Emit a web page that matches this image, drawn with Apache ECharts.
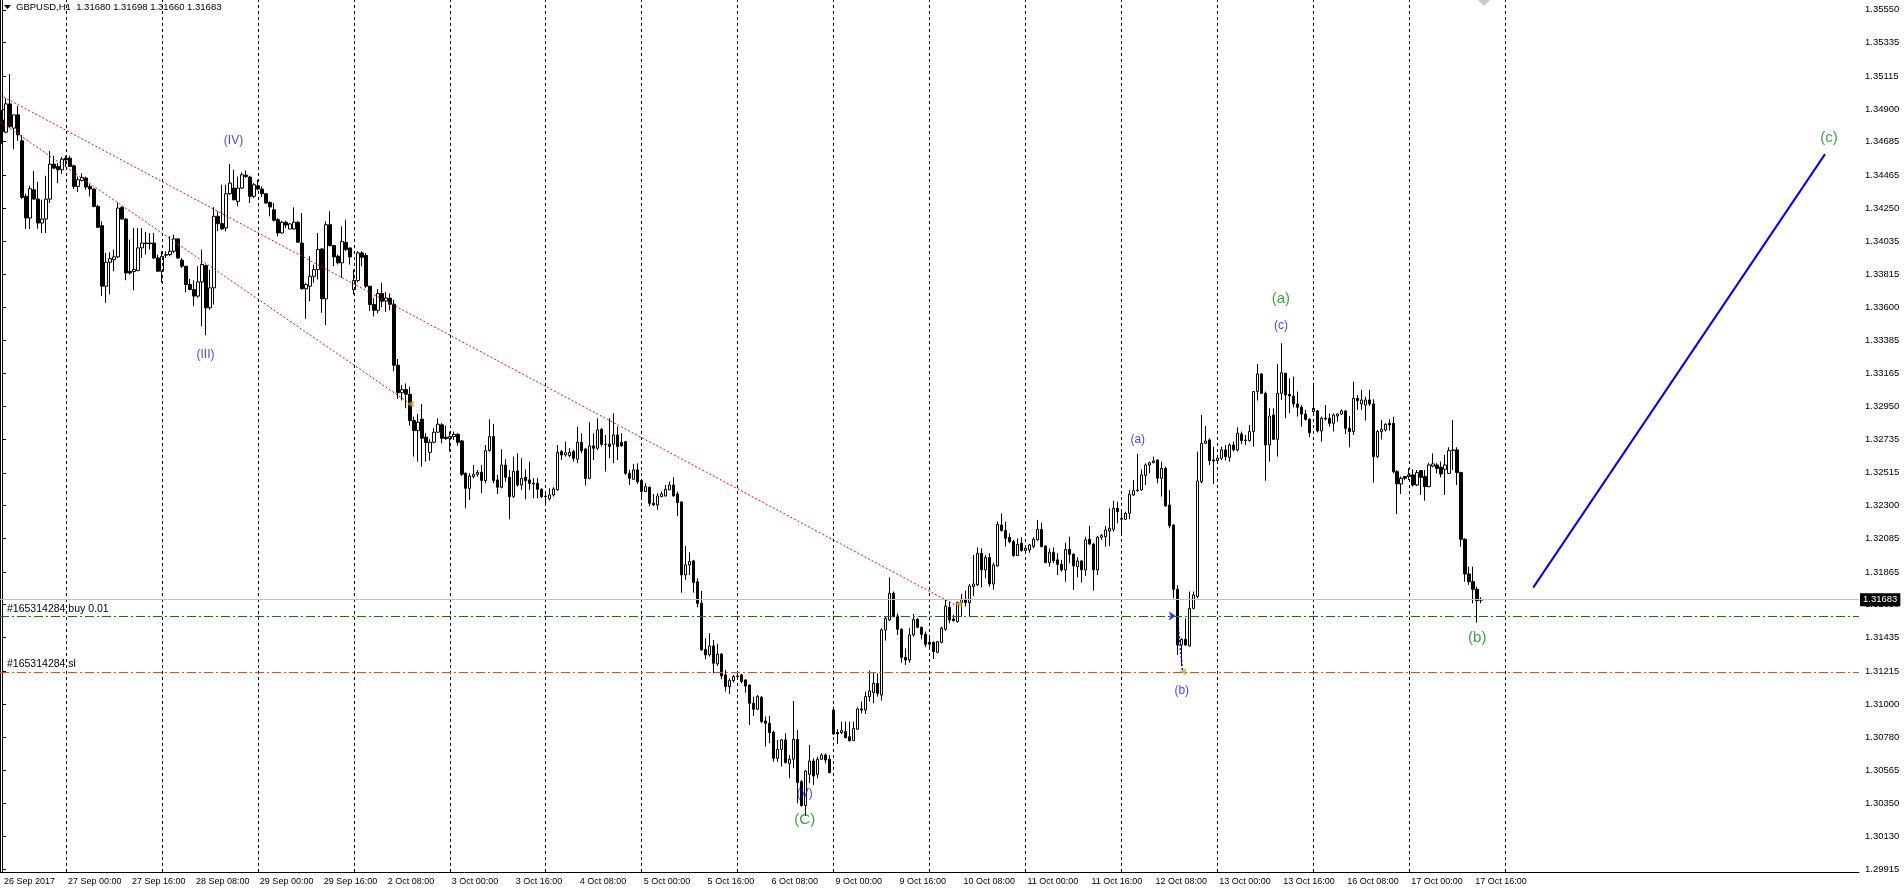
<!DOCTYPE html>
<html>
<head>
<meta charset="utf-8">
<title>GBPUSD,H1</title>
<script src="https://cdn.jsdelivr.net/npm/echarts@6/dist/echarts.min.js"></script>
<style>
  html, body { margin: 0; padding: 0; background: #fff; }
  #chart { width: 1904px; height: 893px; }
</style>
</head>
<body>
<div id="chart"></div>
<script>
var FONT = '"Liberation Sans", Arial, sans-serif';

// trading days shown on the H1 chart, first bar is 26 Sep 08:00
var days = ['26 Sep', '27 Sep', '28 Sep', '29 Sep', '2 Oct', '3 Oct', '4 Oct', '5 Oct',
            '6 Oct', '9 Oct', '10 Oct', '11 Oct', '12 Oct', '13 Oct', '16 Oct', '17 Oct'];
var firstHour = 8;
var slots = 465;   // bars that fit in the window (incl. empty shift area)

var opens = [
  1.34828, 1.34747, 1.34933, 1.34774, 1.34861, 1.34691, 1.34327, 1.34185, 1.34370, 1.34309,
  1.34152, 1.34178, 1.34309, 1.34538, 1.34523, 1.34501, 1.34577, 1.34577, 1.34527, 1.34392,
  1.34431, 1.34447, 1.34392, 1.34375, 1.34261, 1.34135, 1.33738, 1.33895, 1.33912, 1.33930,
  1.34255, 1.34178, 1.33836, 1.33834, 1.33840, 1.33989, 1.34021, 1.34021, 1.34021, 1.33923,
  1.33836, 1.33941, 1.33945, 1.33967, 1.34048, 1.33908, 1.33869, 1.33749, 1.33716, 1.33673,
  1.33766, 1.33873, 1.33596, 1.33727, 1.34196, 1.34148, 1.34120, 1.34344, 1.34381, 1.34294,
  1.34381, 1.34466, 1.34453, 1.34327, 1.34396, 1.34375, 1.34344, 1.34287, 1.34239, 1.34174,
  1.34087, 1.34157, 1.34113, 1.34113, 1.34157, 1.34021, 1.33721, 1.33738, 1.33803, 1.33847,
  1.33982, 1.33655, 1.34141, 1.34004, 1.33934, 1.33891, 1.34026, 1.33989, 1.33716, 1.33775,
  1.33956, 1.33939, 1.33738, 1.33618, 1.33580, 1.33690, 1.33640, 1.33660, 1.33620, 1.33220,
  1.33040, 1.33060, 1.33030, 1.32857, 1.32791, 1.32866, 1.32748, 1.32649, 1.32715, 1.32781,
  1.32829, 1.32748, 1.32739, 1.32752, 1.32767, 1.32724, 1.32512, 1.32413, 1.32490, 1.32505,
  1.32518, 1.32464, 1.32660, 1.32752, 1.32468, 1.32420, 1.32566, 1.32486, 1.32359, 1.32527,
  1.32435, 1.32486, 1.32468, 1.32446, 1.32446, 1.32407, 1.32359, 1.32344, 1.32370, 1.32403,
  1.32654, 1.32632, 1.32628, 1.32654, 1.32604, 1.32715, 1.32671, 1.32479, 1.32691, 1.32676,
  1.32800, 1.32702, 1.32702, 1.32702, 1.32763, 1.32713, 1.32719, 1.32512, 1.32472, 1.32534,
  1.32464, 1.32392, 1.32420, 1.32315, 1.32304, 1.32359, 1.32363, 1.32403, 1.32435, 1.32376,
  1.32324, 1.31845, 1.31911, 1.31937, 1.31800, 1.31660, 1.31358, 1.31321, 1.31380, 1.31262,
  1.31327, 1.31190, 1.31113, 1.31153, 1.31179, 1.31190, 1.31157, 1.31124, 1.31004, 1.30965,
  1.31043, 1.30888, 1.30873, 1.30814, 1.30643, 1.30702, 1.30764, 1.30610, 1.30637, 1.30768,
  1.30490, 1.30333, 1.30538, 1.30626, 1.30538, 1.30637, 1.30665, 1.30637, 1.30960, 1.30812,
  1.30812, 1.30818, 1.30785, 1.30759, 1.30834, 1.30967, 1.30960, 1.31048, 1.31074, 1.31135,
  1.31058, 1.31485, 1.31550, 1.31725, 1.31576, 1.31489, 1.31305, 1.31288, 1.31452, 1.31554,
  1.31502, 1.31456, 1.31391, 1.31404, 1.31338, 1.31404, 1.31489, 1.31633, 1.31557, 1.31539,
  1.31664, 1.31686, 1.31664, 1.31769, 1.31780, 1.31987, 1.31878, 1.31959, 1.31786, 1.31904,
  1.32173, 1.32136, 1.32092, 1.32064, 1.31972, 1.32053, 1.32005, 1.32009, 1.32031, 1.32075,
  1.32144, 1.32035, 1.31926, 1.31994, 1.31944, 1.31915, 1.31878, 1.32013, 1.31981, 1.31900,
  1.31937, 1.31878, 1.32079, 1.32048, 1.31878, 1.32092, 1.32096, 1.32133, 1.32144, 1.32282,
  1.32216, 1.32210, 1.32249, 1.32370, 1.32398, 1.32402, 1.32497, 1.32566, 1.32581, 1.32599,
  1.32479, 1.32544, 1.32304, 1.32173, 1.31751, 1.31386, 1.31423, 1.31380, 1.31626, 1.31703,
  1.32457, 1.32708, 1.32730, 1.32599, 1.32595, 1.32610, 1.32665, 1.32616, 1.32697, 1.32665,
  1.32769, 1.32726, 1.32726, 1.32785, 1.33047, 1.33163, 1.33036, 1.32697, 1.32894, 1.32734,
  1.33036, 1.33167, 1.33029, 1.33018, 1.32966, 1.32944, 1.32900, 1.32865, 1.32916, 1.32920,
  1.32789, 1.32872, 1.32872, 1.32839, 1.32887, 1.32900, 1.32920, 1.32806, 1.32785, 1.33003,
  1.32966, 1.32959, 1.32992, 1.32966, 1.32621, 1.32785, 1.32796, 1.32839, 1.32839, 1.32522,
  1.32442, 1.32490, 1.32490, 1.32501, 1.32435, 1.32529, 1.32490, 1.32424, 1.32559, 1.32566,
  1.32551, 1.32538, 1.32511, 1.32660, 1.32665, 1.32516, 1.32079, 1.31852, 1.31801, 1.31751,
  1.31680
];
var highs = [
  1.34893, 1.34970, 1.35129, 1.34861, 1.34920, 1.34730, 1.34344, 1.34396, 1.34494, 1.34422,
  1.34305, 1.34462, 1.34625, 1.34593, 1.34545, 1.34584, 1.34593, 1.34593, 1.34534, 1.34457,
  1.34479, 1.34457, 1.34407, 1.34381, 1.34272, 1.34163, 1.33956, 1.33960, 1.33978, 1.34287,
  1.34261, 1.34185, 1.34043, 1.34120, 1.34120, 1.34120, 1.34093, 1.34087, 1.34087, 1.33945,
  1.33967, 1.33967, 1.34065, 1.34076, 1.34054, 1.33923, 1.33869, 1.33786, 1.33777, 1.33869,
  1.33978, 1.33880, 1.33847, 1.34257, 1.34229, 1.34403, 1.34403, 1.34540, 1.34501, 1.34457,
  1.34484, 1.34497, 1.34462, 1.34414, 1.34436, 1.34392, 1.34348, 1.34294, 1.34283, 1.34185,
  1.34167, 1.34167, 1.34152, 1.34255, 1.34163, 1.34218, 1.33760, 1.33934, 1.33880, 1.34087,
  1.33989, 1.34163, 1.34229, 1.34004, 1.33945, 1.34130, 1.34174, 1.33989, 1.33847, 1.33967,
  1.33967, 1.33956, 1.33738, 1.33660, 1.33720, 1.33760, 1.33700, 1.33690, 1.33650, 1.33260,
  1.33090, 1.33100, 1.33080, 1.32883, 1.32901, 1.32966, 1.32774, 1.32735, 1.32807, 1.32872,
  1.32840, 1.32824, 1.32785, 1.32785, 1.32774, 1.32730, 1.32516, 1.32512, 1.32566, 1.32534,
  1.32566, 1.32697, 1.32866, 1.32835, 1.32501, 1.32669, 1.32604, 1.32534, 1.32621, 1.32643,
  1.32610, 1.32538, 1.32588, 1.32479, 1.32479, 1.32413, 1.32381, 1.32413, 1.32420, 1.32697,
  1.32665, 1.32719, 1.32676, 1.32665, 1.32818, 1.32774, 1.32676, 1.32846, 1.32774, 1.32872,
  1.32807, 1.32763, 1.32872, 1.32905, 1.32818, 1.32774, 1.32724, 1.32534, 1.32573, 1.32577,
  1.32472, 1.32446, 1.32424, 1.32376, 1.32381, 1.32392, 1.32435, 1.32457, 1.32486, 1.32392,
  1.32326, 1.32035, 1.31994, 1.31944, 1.31824, 1.31740, 1.31430, 1.31463, 1.31419, 1.31393,
  1.31332, 1.31223, 1.31168, 1.31190, 1.31201, 1.31195, 1.31161, 1.31128, 1.31048, 1.31058,
  1.31052, 1.30917, 1.30921, 1.30825, 1.30764, 1.30768, 1.30807, 1.30665, 1.31019, 1.30829,
  1.30501, 1.30567, 1.30731, 1.30643, 1.30654, 1.30676, 1.30676, 1.30665, 1.30982, 1.30834,
  1.30884, 1.30884, 1.30884, 1.30884, 1.30976, 1.31015, 1.31080, 1.31218, 1.31201, 1.31201,
  1.31496, 1.31572, 1.31830, 1.31736, 1.31594, 1.31496, 1.31364, 1.31496, 1.31589, 1.31561,
  1.31506, 1.31474, 1.31452, 1.31408, 1.31412, 1.31506, 1.31688, 1.31670, 1.31583, 1.31670,
  1.31721, 1.31742, 1.31786, 1.31976, 1.32026, 1.32020, 1.31976, 1.31987, 1.31926, 1.32195,
  1.32249, 1.32195, 1.32118, 1.32075, 1.32085, 1.32092, 1.32031, 1.32048, 1.32092, 1.32206,
  1.32188, 1.32040, 1.32020, 1.32026, 1.31987, 1.31944, 1.32057, 1.32096, 1.31987, 1.31961,
  1.31944, 1.32096, 1.32166, 1.32053, 1.32101, 1.32114, 1.32166, 1.32282, 1.32332, 1.32326,
  1.32271, 1.32260, 1.32402, 1.32468, 1.32638, 1.32538, 1.32577, 1.32588, 1.32621, 1.32603,
  1.32588, 1.32555, 1.32402, 1.32177, 1.31780, 1.31430, 1.31561, 1.31736, 1.31736, 1.32653,
  1.32894, 1.32822, 1.32741, 1.32686, 1.32610, 1.32686, 1.32697, 1.32708, 1.32719, 1.32813,
  1.32785, 1.32763, 1.32828, 1.33051, 1.33228, 1.33167, 1.33047, 1.32938, 1.32938, 1.33228,
  1.33364, 1.33171, 1.33134, 1.33145, 1.33047, 1.32959, 1.32927, 1.32872, 1.33101, 1.32927,
  1.32883, 1.32959, 1.32905, 1.32905, 1.32905, 1.32931, 1.32927, 1.32887, 1.33112, 1.33025,
  1.33058, 1.33014, 1.33058, 1.32997, 1.32796, 1.32861, 1.32839, 1.32865, 1.32883, 1.32533,
  1.32490, 1.32490, 1.32544, 1.32538, 1.32533, 1.32533, 1.32533, 1.32581, 1.32643, 1.32577,
  1.32588, 1.32632, 1.32682, 1.32861, 1.32682, 1.32522, 1.32085, 1.31900, 1.31900, 1.31769,
  1.31698
];
var lows = [
  1.34671, 1.34741, 1.34774, 1.34636, 1.34691, 1.34309, 1.34113, 1.34113, 1.34305, 1.34115,
  1.34087, 1.34087, 1.34283, 1.34505, 1.34414, 1.34475, 1.34519, 1.34519, 1.34375, 1.34355,
  1.34425, 1.34370, 1.34327, 1.34255, 1.34120, 1.33673, 1.33629, 1.33684, 1.33836, 1.33923,
  1.34174, 1.33777, 1.33814, 1.33712, 1.33836, 1.33923, 1.33945, 1.33978, 1.33917, 1.33836,
  1.33760, 1.33923, 1.33934, 1.33956, 1.33917, 1.33858, 1.33699, 1.33712, 1.33607, 1.33662,
  1.33476, 1.33417, 1.33585, 1.33618, 1.34098, 1.34109, 1.34098, 1.34337, 1.34300, 1.34261,
  1.34375, 1.34447, 1.34283, 1.34316, 1.34366, 1.34322, 1.34279, 1.34196, 1.34163, 1.34065,
  1.34082, 1.34120, 1.34113, 1.34109, 1.34026, 1.33716, 1.33524, 1.33640, 1.33760, 1.33782,
  1.33564, 1.33483, 1.33999, 1.33869, 1.33880, 1.33793, 1.33967, 1.33880, 1.33684, 1.33764,
  1.33869, 1.33727, 1.33575, 1.33540, 1.33560, 1.33600, 1.33570, 1.33580, 1.33180, 1.33000,
  1.32990, 1.32938, 1.32824, 1.32621, 1.32588, 1.32555, 1.32588, 1.32595, 1.32708, 1.32778,
  1.32708, 1.32730, 1.32654, 1.32730, 1.32693, 1.32494, 1.32282, 1.32337, 1.32479, 1.32490,
  1.32381, 1.32446, 1.32654, 1.32446, 1.32376, 1.32413, 1.32457, 1.32210, 1.32348, 1.32424,
  1.32403, 1.32341, 1.32403, 1.32348, 1.32348, 1.32348, 1.32304, 1.32333, 1.32359, 1.32398,
  1.32599, 1.32621, 1.32617, 1.32588, 1.32577, 1.32643, 1.32431, 1.32472, 1.32599, 1.32665,
  1.32687, 1.32523, 1.32610, 1.32577, 1.32599, 1.32687, 1.32501, 1.32435, 1.32468, 1.32442,
  1.32337, 1.32392, 1.32298, 1.32298, 1.32271, 1.32354, 1.32359, 1.32403, 1.32359, 1.32232,
  1.31729, 1.31813, 1.31845, 1.31729, 1.31633, 1.31349, 1.31293, 1.31310, 1.31201, 1.31249,
  1.31161, 1.31081, 1.31065, 1.31140, 1.31157, 1.31135, 1.31074, 1.30862, 1.30921, 1.30960,
  1.30873, 1.30720, 1.30742, 1.30621, 1.30621, 1.30589, 1.30610, 1.30512, 1.30578, 1.30348,
  1.30327, 1.30265, 1.30480, 1.30469, 1.30512, 1.30632, 1.30610, 1.30545, 1.30796, 1.30737,
  1.30803, 1.30774, 1.30753, 1.30759, 1.30829, 1.30938, 1.30934, 1.31015, 1.31004, 1.31048,
  1.31021, 1.31415, 1.31546, 1.31568, 1.31452, 1.31270, 1.31255, 1.31270, 1.31441, 1.31496,
  1.31423, 1.31371, 1.31354, 1.31294, 1.31332, 1.31397, 1.31480, 1.31528, 1.31539, 1.31533,
  1.31572, 1.31638, 1.31572, 1.31707, 1.31773, 1.31764, 1.31823, 1.31769, 1.31747, 1.31900,
  1.32129, 1.32031, 1.32053, 1.31965, 1.31970, 1.31998, 1.31987, 1.31991, 1.32020, 1.32070,
  1.32026, 1.31922, 1.31900, 1.31922, 1.31845, 1.31867, 1.31801, 1.31922, 1.31747, 1.31830,
  1.31795, 1.31839, 1.32042, 1.31742, 1.31845, 1.32075, 1.32031, 1.32035, 1.32129, 1.32184,
  1.32101, 1.32206, 1.32210, 1.32363, 1.32391, 1.32398, 1.32435, 1.32511, 1.32577, 1.32446,
  1.32359, 1.32293, 1.32151, 1.31692, 1.31321, 1.31250, 1.31380, 1.31376, 1.31620, 1.31692,
  1.32446, 1.32704, 1.32566, 1.32442, 1.32588, 1.32599, 1.32595, 1.32588, 1.32654, 1.32654,
  1.32704, 1.32697, 1.32719, 1.32686, 1.32988, 1.33031, 1.32463, 1.32588, 1.32730, 1.32621,
  1.32992, 1.32872, 1.32905, 1.32944, 1.32883, 1.32817, 1.32857, 1.32747, 1.32894, 1.32780,
  1.32719, 1.32857, 1.32817, 1.32785, 1.32850, 1.32894, 1.32769, 1.32682, 1.32763, 1.32927,
  1.32927, 1.32857, 1.32953, 1.32450, 1.32610, 1.32734, 1.32785, 1.32791, 1.32511, 1.32245,
  1.32376, 1.32468, 1.32468, 1.32424, 1.32428, 1.32369, 1.32332, 1.32420, 1.32551, 1.32511,
  1.32485, 1.32369, 1.32507, 1.32533, 1.32435, 1.32031, 1.31801, 1.31780, 1.31659, 1.31533,
  1.31660
];
var closes = [
  1.34752, 1.34933, 1.34784, 1.34861, 1.34730, 1.34320, 1.34185, 1.34377, 1.34309, 1.34152,
  1.34178, 1.34309, 1.34538, 1.34512, 1.34501, 1.34571, 1.34566, 1.34523, 1.34392, 1.34436,
  1.34451, 1.34388, 1.34375, 1.34261, 1.34124, 1.33738, 1.33895, 1.33919, 1.33930, 1.34250,
  1.34178, 1.33825, 1.33825, 1.33847, 1.33989, 1.34021, 1.34017, 1.34017, 1.33923, 1.33836,
  1.33934, 1.33945, 1.33967, 1.34048, 1.33923, 1.33869, 1.33749, 1.33716, 1.33673, 1.33766,
  1.33880, 1.33596, 1.33727, 1.34196, 1.34148, 1.34113, 1.34344, 1.34414, 1.34305, 1.34381,
  1.34468, 1.34457, 1.34327, 1.34403, 1.34375, 1.34344, 1.34283, 1.34257, 1.34170, 1.34087,
  1.34157, 1.34139, 1.34146, 1.34157, 1.34026, 1.33721, 1.33749, 1.33803, 1.33847, 1.33978,
  1.33655, 1.34141, 1.34004, 1.33930, 1.33891, 1.34032, 1.33978, 1.33930, 1.33775, 1.33956,
  1.33928, 1.33738, 1.33618, 1.33580, 1.33690, 1.33640, 1.33660, 1.33620, 1.33220, 1.33040,
  1.33060, 1.33030, 1.32857, 1.32791, 1.32846, 1.32741, 1.32713, 1.32715, 1.32781, 1.32833,
  1.32741, 1.32739, 1.32752, 1.32767, 1.32715, 1.32505, 1.32413, 1.32494, 1.32505, 1.32518,
  1.32464, 1.32660, 1.32752, 1.32464, 1.32420, 1.32566, 1.32486, 1.32359, 1.32523, 1.32435,
  1.32479, 1.32464, 1.32446, 1.32442, 1.32407, 1.32359, 1.32362, 1.32370, 1.32409, 1.32649,
  1.32632, 1.32647, 1.32649, 1.32610, 1.32715, 1.32660, 1.32477, 1.32691, 1.32676, 1.32796,
  1.32702, 1.32700, 1.32687, 1.32763, 1.32687, 1.32691, 1.32512, 1.32479, 1.32534, 1.32457,
  1.32392, 1.32424, 1.32315, 1.32304, 1.32363, 1.32376, 1.32407, 1.32435, 1.32363, 1.32319,
  1.31845, 1.31911, 1.31933, 1.31795, 1.31660, 1.31354, 1.31321, 1.31380, 1.31266, 1.31325,
  1.31183, 1.31113, 1.31153, 1.31179, 1.31183, 1.31146, 1.31117, 1.31004, 1.30965, 1.31048,
  1.30884, 1.30873, 1.30812, 1.30643, 1.30702, 1.30764, 1.30615, 1.30637, 1.30768, 1.30484,
  1.30333, 1.30560, 1.30626, 1.30528, 1.30637, 1.30665, 1.30632, 1.30549, 1.30803, 1.30803,
  1.30825, 1.30779, 1.30759, 1.30840, 1.30967, 1.30960, 1.31048, 1.31085, 1.31135, 1.31069,
  1.31485, 1.31561, 1.31725, 1.31572, 1.31489, 1.31305, 1.31288, 1.31452, 1.31554, 1.31502,
  1.31456, 1.31391, 1.31404, 1.31343, 1.31408, 1.31496, 1.31642, 1.31550, 1.31546, 1.31664,
  1.31686, 1.31664, 1.31773, 1.31786, 1.31987, 1.31878, 1.31959, 1.31786, 1.31911, 1.32177,
  1.32136, 1.32085, 1.32064, 1.31972, 1.32046, 1.32005, 1.32020, 1.32042, 1.32079, 1.32144,
  1.32031, 1.31926, 1.31994, 1.31939, 1.31915, 1.31878, 1.32013, 1.31981, 1.31904, 1.31937,
  1.31878, 1.32075, 1.32048, 1.31878, 1.32092, 1.32103, 1.32140, 1.32151, 1.32282, 1.32260,
  1.32210, 1.32249, 1.32374, 1.32398, 1.32402, 1.32501, 1.32566, 1.32581, 1.32592, 1.32479,
  1.32544, 1.32297, 1.32168, 1.31751, 1.31386, 1.31423, 1.31386, 1.31626, 1.31714, 1.32461,
  1.32708, 1.32723, 1.32595, 1.32592, 1.32610, 1.32665, 1.32621, 1.32697, 1.32665, 1.32774,
  1.32726, 1.32730, 1.32785, 1.33047, 1.33163, 1.33036, 1.32697, 1.32887, 1.32734, 1.33036,
  1.33171, 1.33025, 1.33018, 1.32966, 1.32944, 1.32900, 1.32865, 1.32778, 1.32938, 1.32789,
  1.32872, 1.32868, 1.32839, 1.32894, 1.32900, 1.32920, 1.32806, 1.32785, 1.33003, 1.32988,
  1.32992, 1.32992, 1.32966, 1.32621, 1.32785, 1.32800, 1.32833, 1.32828, 1.32522, 1.32442,
  1.32479, 1.32479, 1.32501, 1.32435, 1.32516, 1.32485, 1.32424, 1.32566, 1.32573, 1.32544,
  1.32507, 1.32566, 1.32660, 1.32665, 1.32516, 1.32079, 1.31852, 1.31801, 1.31751, 1.31677,
  1.31683
];

// right price scale
var priceTicks = [1.35550, 1.35335, 1.35115, 1.34900, 1.34685, 1.34465, 1.34250, 1.34035, 1.33815,
  1.33600, 1.33385, 1.33165, 1.32950, 1.32735, 1.32515, 1.32300, 1.32085, 1.31865, 1.31650,
  1.31435, 1.31215, 1.31000, 1.30780, 1.30565, 1.30350, 1.30130, 1.29915];
var priceMin = 1.29898, priceMax = 1.35614;

var bid = 1.31683;
var buyPrice = 1.31574;
var slPrice = 1.31209;

// drawn objects, [bar index, price]
var channelUpper = [[-0.5, 1.34991], [239, 1.31640]];
var channelLower = [[-0.5, 1.34816], [102, 1.32969]];
var projection = [[383, 1.31762], [456, 1.34604]];
var tradeLine = [[294, 1.31574], [295.3, 1.31211]];
var closeArrows = [[102.1, 1.32966], [239.2, 1.31655], [295.3, 1.31211]];
var openArrows = [[293.6, 1.31576]];
var blueWaves = [[57.9, 1.34689, '(IV)'], [50.9, 1.33287, '(III)'], [200.8, 1.30410, '(V)'],
  [284.1, 1.32730, '(a)'], [295.1, 1.31085, '(b)'], [319.9, 1.33481, '(c)']];
var greenWaves = [[200.8, 1.30242, '(C)'], [319.9, 1.33656, '(a)'], [369.0, 1.31430, '(b)'],
  [457.0, 1.34709, '(c)']];

// time labels for each bar
var times = [];
for (var i = 0; i < slots; i++) {
  if (i >= opens.length) { times.push(''); continue; }
  var h = i + firstHour;
  var hh = h % 24;
  times.push(i === 0 ? '26 Sep 2017' : days[Math.floor(h / 24)] + ' ' + (hh < 10 ? '0' : '') + hh + ':00');
}
var midnights = [];
for (var d = 1; d <= days.length; d++) midnights.push({ xAxis: d * 24 - firstHour });

var candles = opens.map(function (o, i) { return [o, closes[i], lows[i], highs[i]]; });

function showTime(index) { return index % 16 === 0 && index < opens.length; }

var myChart = echarts.init(document.getElementById('chart'));

var option = {
  backgroundColor: '#fff',
  animation: false,
  textStyle: { fontFamily: FONT },
  grid: { left: 0, right: 45, top: 0, bottom: 21 },
  graphic: [
    { type: 'polygon', shape: { points: [[4, 5], [11, 5], [7.5, 9]] }, style: { fill: '#000' } },
    { type: 'text', left: 16, top: 2,
      style: { text: 'GBPUSD,H1  1.31680 1.31698 1.31660 1.31683', fill: '#000', font: '9.5px ' + FONT } },
    { type: 'polygon', shape: { points: [[1478, 0], [1490, 0], [1484, 6]] }, style: { fill: '#c8c8c8' } }
  ],
  xAxis: [{
    type: 'category',
    data: times,
    boundaryGap: true,
    axisLine: { lineStyle: { color: '#000' } },
    axisTick: { alignWithLabel: true, interval: showTime, length: 4, lineStyle: { color: '#000' } },
    axisLabel: { interval: showTime, align: 'left', margin: 5, color: '#000', fontSize: 9,
                 fontFamily: FONT, padding: [0, 0, 0, 2] },
    splitLine: { show: false }
  }, {
    type: 'value', min: -0.5, max: slots - 0.5, show: false
  }],
  yAxis: [{
    type: 'value', position: 'right', min: priceMin, max: priceMax,
    axisLine: { show: true, lineStyle: { color: '#000' } },
    axisTick: { show: true, customValues: priceTicks, length: 4, lineStyle: { color: '#000' } },
    axisLabel: { customValues: priceTicks, color: '#000', fontSize: 9.5, fontFamily: FONT, margin: 6,
                 formatter: function (v) { return v.toFixed(5); } },
    splitLine: { show: false }
  }, {
    type: 'value', position: 'left', min: priceMin, max: priceMax,
    axisLine: { show: true, lineStyle: { color: '#000', width: 2 } },
    axisTick: { show: false }, axisLabel: { show: false }, splitLine: { show: false }
  }],
  series: [{
    type: 'candlestick',
    data: candles,
    barWidth: 3,
    itemStyle: { color: '#fff', color0: '#000', borderColor: '#000', borderColor0: '#000',
                 borderColorDoji: '#000', borderWidth: 1 }
  }, {
    type: 'line', xAxisIndex: 1, data: channelUpper, symbol: 'none', silent: true,
    lineStyle: { color: '#ff0000', width: 1, type: [2, 2] },
    markLine: {
      silent: true, symbol: 'none', animation: false, label: { show: false },
      lineStyle: { color: '#000', width: 1, type: [3, 3] },
      data: midnights
    }
  }, {
    type: 'line', xAxisIndex: 1, data: channelLower, symbol: 'none', silent: true,
    lineStyle: { color: '#ff0000', width: 1, type: [2, 2] },
    markLine: {
      silent: true, symbol: 'none', animation: false, precision: 5,
      data: [
        { yAxis: bid, lineStyle: { color: '#c0c0c0', type: 'solid', width: 1 },
          label: { show: true, position: 'end', distance: 1, formatter: bid.toFixed(5), color: '#fff',
                   backgroundColor: '#000', padding: [2, 3, 1, 3], fontSize: 9.5, fontFamily: FONT } },
        { yAxis: buyPrice, lineStyle: { color: '#008000', type: [9, 3, 2, 3], width: 1 },
          label: { show: true, position: 'insideStartTop', distance: [7, 2], formatter: '#165314284 buy 0.01',
                   color: '#000', fontSize: 10.5, fontFamily: FONT } },
        { yAxis: slPrice, lineStyle: { color: '#ff4500', type: [9, 3, 2, 3], width: 1 },
          label: { show: true, position: 'insideStartTop', distance: [7, 2], formatter: '#165314284 sl',
                   color: '#000', fontSize: 10.5, fontFamily: FONT } }
      ]
    }
  }, {
    type: 'line', xAxisIndex: 1, data: projection, symbol: 'none', silent: true,
    lineStyle: { color: '#0000ff', width: 2 }
  }, {
    type: 'line', xAxisIndex: 1, data: tradeLine, symbol: 'none', silent: true,
    lineStyle: { color: '#0000ff', width: 1.5, type: [2, 2] }
  }, {
    type: 'scatter', xAxisIndex: 1, data: closeArrows, symbol: 'triangle', symbolRotate: 90,
    symbolSize: 7, silent: true, itemStyle: { color: '#e0a020' }
  }, {
    type: 'scatter', xAxisIndex: 1, data: openArrows, symbol: 'arrow', symbolRotate: -90,
    symbolSize: 7, silent: true, itemStyle: { color: '#0000ff' }
  }, {
    type: 'scatter', xAxisIndex: 1, data: blueWaves, symbolSize: 1, silent: true, z: 5,
    itemStyle: { color: 'rgba(0,0,0,0)' },
    label: { show: true, position: 'inside', color: '#1010ff', fontSize: 12, fontFamily: FONT,
             formatter: function (p) { return p.value[2]; } }
  }, {
    type: 'scatter', xAxisIndex: 1, data: greenWaves, symbolSize: 1, silent: true, z: 5,
    itemStyle: { color: 'rgba(0,0,0,0)' },
    label: { show: true, position: 'inside', color: '#108a10', fontSize: 15, fontFamily: FONT,
             formatter: function (p) { return p.value[2]; } }
  }]
};

myChart.setOption(option);
</script>
</body>
</html>
